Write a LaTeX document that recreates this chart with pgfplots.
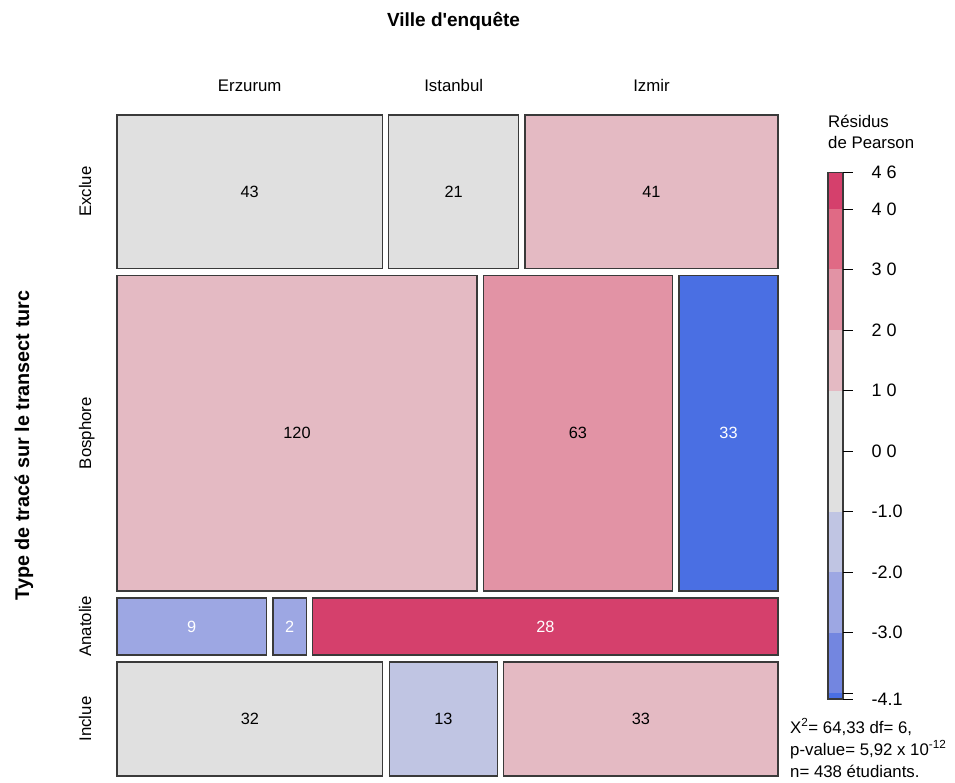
\documentclass[border=0pt]{standalone}
\usepackage{pgfplots}
\pgfplotsset{compat=1.18}
\usepackage{fontspec}
\setmainfont{Liberation Sans}[Ligatures=TeXOff]
\definecolor{grey0}{HTML}{E0E0E0}
\definecolor{pos1}{HTML}{E4BAC3}
\definecolor{pos2}{HTML}{E293A5}
\definecolor{pos3}{HTML}{E06A85}
\definecolor{pos4}{HTML}{D5406C}
\definecolor{neg1}{HTML}{C0C5E3}
\definecolor{neg2}{HTML}{9DA7E3}
\definecolor{neg3}{HTML}{7386E0}
\definecolor{neg4}{HTML}{4A6FE3}
\definecolor{edge}{HTML}{3A3A3A}
% cell: x1 y1 x2 y2 fill count textcolor
\newcommand{\cell}[7]{%
  \addplot[fill=#5, draw=edge, line width=1.1pt] coordinates {(#1,#2) (#3,#2) (#3,#4) (#1,#4)} -- cycle;
  \node[text=#7, font=\fontsize{16.3}{19}\selectfont] at (axis cs:{(#1+#3)/2},{(#2+#4)/2}) {#6};
}
\newcommand{\seg}[3]{%
  \addplot[fill=#3, draw=none] coordinates {(828,#1) (843,#1) (843,#2) (828,#2)} -- cycle;
}
\newcommand{\tck}[2]{%
  \addplot[black, line width=0.8pt] coordinates {(843,#1) (853,#1)};
  \node[anchor=west, font=\fontsize{18}{21}\selectfont] at (axis cs:868,#1) {#2};
}
\begin{document}
\begin{tikzpicture}
\begin{axis}[width=955pt, height=783pt, scale only axis,
  xmin=0, xmax=955, ymin=0, ymax=783, y dir=reverse,
  hide axis, clip=false]
\addplot[draw=none] coordinates {(0,0) (955,783)};
% Exclue (105)
\cell{117}{115}{382.37}{268.42}{grey0}{43}{black}
\cell{388.87}{115}{518.47}{268.42}{grey0}{21}{black}
\cell{524.97}{115}{778}{268.42}{pos1}{41}{black}
% Bosphore (216)
\cell{117}{275.42}{477}{591.04}{pos1}{120}{black}
\cell{483.5}{275.42}{672.5}{591.04}{pos2}{63}{black}
\cell{679}{275.42}{778}{591.04}{neg4}{33}{white}
% Anatolie (39)
\cell{117}{598.04}{266.54}{655.03}{neg2}{9}{white}
\cell{273.04}{598.04}{306.27}{655.03}{neg2}{2}{white}
\cell{312.77}{598.04}{778}{655.03}{pos4}{28}{white}
% Inclue (78)
\cell{117}{662.03}{382.85}{776}{grey0}{32}{black}
\cell{389.35}{662.03}{497.35}{776}{neg1}{13}{black}
\cell{503.85}{662.03}{778}{776}{pos1}{33}{black}
% colour bar
\seg{172.7}{209}{pos4}
\seg{209}{269.5}{pos3}
\seg{269.5}{330}{pos2}
\seg{330}{390.5}{pos1}
\seg{390.5}{511.5}{grey0}
\seg{511.5}{572}{neg1}
\seg{572}{632.5}{neg2}
\seg{632.5}{693}{neg3}
\seg{693}{699}{neg4}
\addplot[draw=edge, line width=1.1pt] coordinates {(828,172.7) (843,172.7) (843,699) (828,699)} -- cycle;
\tck{172.7}{4 6}
\tck{209}{4 0}
\tck{269.5}{3 0}
\tck{330}{2 0}
\tck{390.5}{1 0}
\tck{451}{0 0}
\tck{511.5}{-1.0}
\tck{572}{-2.0}
\tck{632.5}{-3.0}
\addplot[black, line width=0.8pt] coordinates {(843,693) (853,693)};
\tck{699}{-4.1}
% titles and labels
\node[anchor=base, font=\fontsize{19}{22}\selectfont\bfseries] at (axis cs:453.5,27) {Ville d'enquête};
\node[anchor=base, rotate=90, font=\fontsize{19.8}{22}\selectfont\bfseries] at (axis cs:29,445.5) {Type de tracé sur le transect turc};
\node[anchor=base, font=\fontsize{16.8}{19}\selectfont] at (axis cs:249.7,92) {Erzurum};
\node[anchor=base, font=\fontsize{16.8}{19}\selectfont] at (axis cs:453.7,92) {Istanbul};
\node[anchor=base, font=\fontsize{16.8}{19}\selectfont] at (axis cs:651.5,92) {Izmir};
\node[anchor=base, rotate=90, font=\fontsize{16.8}{19}\selectfont] at (axis cs:91,191.7) {Exclue};
\node[anchor=base, rotate=90, font=\fontsize{16.8}{19}\selectfont] at (axis cs:91,433.2) {Bosphore};
\node[anchor=base, rotate=90, font=\fontsize{16.8}{19}\selectfont] at (axis cs:91,626.5) {Anatolie};
\node[anchor=base, rotate=90, font=\fontsize{16.8}{19}\selectfont] at (axis cs:91,719) {Inclue};
\node[anchor=base west, inner sep=0pt, font=\fontsize{16.8}{19}\selectfont] at (axis cs:828,128) {Résidus};
\node[anchor=base west, inner sep=0pt, font=\fontsize{16.8}{19}\selectfont] at (axis cs:828,149) {de Pearson};
\node[anchor=base west, inner sep=0pt, font=\fontsize{16.8}{19}\selectfont] at (axis cs:790,733) {X\textsuperscript{2}= 64,33 df= 6,};
\node[anchor=base west, inner sep=0pt, font=\fontsize{16.8}{19}\selectfont] at (axis cs:790,755) {p-value= 5,92 x 10\textsuperscript{-12}};
\node[anchor=base west, inner sep=0pt, font=\fontsize{16.8}{19}\selectfont] at (axis cs:790,777) {n= 438 étudiants.};
\end{axis}
\end{tikzpicture}
\end{document}
